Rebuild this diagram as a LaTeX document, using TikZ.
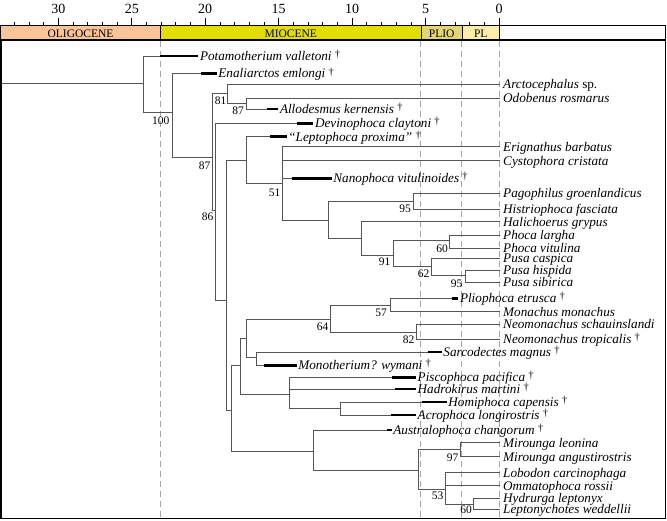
\documentclass[tikz,border=0pt]{standalone}
\usepackage{fontspec}
\setmainfont{Liberation Serif}
\usetikzlibrary{calc}
\definecolor{oligo}{HTML}{FBC496}
\definecolor{mio}{HTML}{E3DE00}
\definecolor{plio}{HTML}{E4D475}
\definecolor{pleis}{HTML}{FCEDA8}
\definecolor{brc}{HTML}{555555}
\newcommand\dagmark{\raisebox{2.8pt}{\fontsize{10.5}{10}\selectfont\upshape †}}
\newcommand\leafE[4]{%
  \coordinate (#1) at (500,#3);
  \draw[br] (#2) |- (#1);
  \node[tax] (#1lab) at (503,{#3+4.5}) {#4};
}
\newcommand\leafF[6]{%
  \coordinate (#1s) at (#4,#3);
  \coordinate (#1) at (#5,#3);
  \draw[br] (#2) |- (#1s);
  \draw[rng] (#1s) -- (#1);
  \node[tax] (#1lab) at ({#5+1.5},{#3+4.5}) {#6};
}
\tikzset{
  br/.style={draw=brc, line width=0.85pt},
  rng/.style={draw=black, line width=2.8pt, line cap=butt},
  tax/.style={anchor=base west, inner sep=0pt, font=\fontsize{13.2}{14}\selectfont\itshape},
  suppval/.style={anchor=east, inner sep=0pt, font=\fontsize{11.5}{12}\selectfont},
  axnum/.style={inner sep=0pt, font=\fontsize{14}{14}\selectfont},
  epoch/.style={inner sep=0pt, font=\fontsize{11.5}{12}\selectfont},
  bound/.style={draw=gray!70, line width=0.6pt, dash pattern=on 6pt off 4pt},
}
\begin{document}
\begin{tikzpicture}[x=1pt,y=-1pt]
\useasboundingbox (0,0) rectangle (667,521);
% epoch bar
\fill[oligo] (0.5,26) rectangle (160.5,40);
\fill[mio] (160.5,26) rectangle (421,40);
\fill[plio] (421,26) rectangle (462.5,40);
\fill[pleis] (462.5,26) rectangle (499,40);
\draw[line width=1pt] (0.5,26) rectangle (665.5,40);
\foreach \xx in {160.5,421,462.5,499} \draw[line width=0.8pt] (\xx,26) -- (\xx,40);
\node[epoch] (eOl) at (80.5,33.5) {OLIGOCENE};
\node[epoch] (eMi) at (290.75,33.5) {MIOCENE};
\node[epoch] (ePlio) at (441.75,33.5) {PLIO};
\node[epoch] (ePl) at (480.75,33.5) {PL};
% axis
\foreach \a in {0,...,33} \draw[line width=0.7pt] ({499-14.69*\a},26) -- ++(0,-3.5);
\foreach \a in {0,5,...,30} {
  \draw[line width=0.7pt] ({499-14.69*\a},26) -- ++(0,-8);
  \node[axnum] (ax\a) at ({499-14.69*\a},8.5) {\a};
}
% boundaries
\foreach \xx in {160.7,420.7,461.5,499} \draw[bound] (\xx,41) -- (\xx,518);
% frame
\draw[line width=1.6pt] (1,40) rectangle (665.5,518.5);
% internal nodes
\coordinate (r0) at (2,83);
\coordinate (n1) at (143.3,83);
\coordinate (n2) at (172.3,112.7);
\coordinate (n3) at (212.3,157.7);
\coordinate (nA) at (227.7,93.3);
\coordinate (nB) at (246.3,103.3);
\coordinate (nD) at (215.7,210);
\coordinate (nE) at (226.7,300);
\coordinate (nP) at (246.7,160);
\coordinate (nQ) at (282.3,183.3);
\coordinate (nR) at (328.3,220);
\coordinate (nS) at (413.3,201.7);
\coordinate (nT) at (361,238.3);
\coordinate (nU) at (393.3,255);
\coordinate (nV) at (449.3,240);
\coordinate (nW) at (431.7,266.7);
\coordinate (nX) at (465.7,275.7);
\coordinate (nM) at (231.7,410);
\coordinate (nF) at (240.7,365);
\coordinate (nG) at (246.7,338.3);
\coordinate (nI) at (330,319.3);
\coordinate (nK) at (390,305);
\coordinate (nNm) at (416.7,332.3);
\coordinate (nJ) at (256,357.7);
\coordinate (nH) at (289.3,394.3);
\coordinate (nHm) at (340.7,408.3);
\coordinate (nL) at (313.3,451.7);
\coordinate (nN) at (418.3,470.7);
\coordinate (nMi) at (460,449.3);
\coordinate (nLo) at (445.7,489.3);
\coordinate (nHL) at (473.3,504);
% internal branches
\draw[br] (r0) -- (n1);
\draw[br] (n1) |- (n2);
\draw[br] (n2) |- (n3);
\draw[br] (n3) |- (nA);
\draw[br] (n3) |- (nD);
\draw[br] (nA) |- (nB);
\draw[br] (nD) |- (nE);
\draw[br] (nE) |- (nP);
\draw[br] (nE) |- (nM);
\draw[br] (nP) |- (nQ);
\draw[br] (nQ) |- (nR);
\draw[br] (nR) |- (nS);
\draw[br] (nR) |- (nT);
\draw[br] (nT) |- (nU);
\draw[br] (nU) |- (nV);
\draw[br] (nU) |- (nW);
\draw[br] (nW) |- (nX);
\draw[br] (nM) |- (nF);
\draw[br] (nM) |- (nL);
\draw[br] (nF) |- (nG);
\draw[br] (nF) |- (nH);
\draw[br] (nG) |- (nI);
\draw[br] (nG) |- (nJ);
\draw[br] (nI) |- (nK);
\draw[br] (nI) |- (nNm);
\draw[br] (nH) |- (nHm);
\draw[br] (nL) |- (nN);
\draw[br] (nN) |- (nMi);
\draw[br] (nN) |- (nLo);
\draw[br] (nLo) |- (nHL);
% leaves
\leafF{Pot}{n1}{56}{160}{198.3}{Potamotherium valletoni \dagmark}
\leafF{Ena}{n2}{73.5}{201}{216.7}{Enaliarctos emlongi \dagmark}
\leafE{Arc}{nA}{84}{Arctocephalus \upshape sp.}
\leafE{Odo}{nB}{98.3}{Odobenus rosmarus}
\leafF{All}{nB}{109}{266.7}{278.3}{Allodesmus kernensis \dagmark}
\leafF{Dev}{nD}{123.3}{296.7}{313.3}{Devinophoca claytoni \dagmark}
\leafF{Lep}{nP}{136.7}{270}{286.7}{“Leptophoca proxima” \dagmark}
\leafE{Eri}{nQ}{146.7}{Erignathus barbatus}
\leafE{Cys}{nQ}{160.7}{Cystophora cristata}
\leafF{Nan}{nQ}{178.3}{291.7}{331.7}{Nanophoca vitulinoides \dagmark}
\leafE{Pag}{nS}{193.3}{Pagophilus groenlandicus}
\leafE{His}{nS}{209.3}{Histriophoca fasciata}
\leafE{Hal}{nT}{221.7}{Halichoerus grypus}
\leafE{Pla}{nV}{235}{Phoca largha}
\leafE{Pvi}{nV}{248.3}{Phoca vitulina}
\leafE{Pca}{nW}{258.3}{Pusa caspica}
\leafE{Phi}{nX}{270}{Pusa hispida}
\leafE{Psi}{nX}{282}{Pusa sibirica}
\leafF{Pli}{nK}{298.3}{451.7}{458.3}{Pliophoca etrusca \dagmark}
\leafE{Mon}{nK}{311.7}{Monachus monachus}
\leafE{Nsc}{nNm}{324.3}{Neomonachus schauinslandi}
\leafE{Ntr}{nNm}{339.3}{Neomonachus tropicalis \dagmark}
\leafF{Sar}{nJ}{352}{428.3}{441.7}{Sarcodectes magnus \dagmark}
\leafF{Mwy}{nJ}{365.3}{264.3}{296.7}{Monotherium? wymani \dagmark}
\leafF{Pis}{nH}{377.3}{391.7}{416}{Piscophoca pacifica \dagmark}
\leafF{Had}{nH}{389}{395}{416}{Hadrokirus martini \dagmark}
\leafF{Hom}{nHm}{402}{421.7}{446.7}{Homiphoca capensis \dagmark}
\leafF{Acr}{nHm}{415}{390.7}{416}{Acrophoca longirostris \dagmark}
\leafF{Aus}{nL}{430}{386.7}{391.7}{Australophoca changorum \dagmark}
\leafE{Mle}{nMi}{442.7}{Mirounga leonina}
\leafE{Man}{nMi}{456.7}{Mirounga angustirostris}
\leafE{Lob}{nLo}{472.7}{Lobodon carcinophaga}
\leafE{Omm}{nLo}{485.7}{Ommatophoca rossii}
\leafE{Hyd}{nHL}{498.3}{Hydrurga leptonyx}
\leafE{Lwe}{nHL}{509.3}{Leptonychotes weddellii}
% support values
\node[suppval] (bs100) at (169.5,120.8) {100};
\node[suppval] (bs87a) at (210.5,165.8) {87};
\node[suppval] (bs81) at (226.5,100.8) {81};
\node[suppval] (bs87b) at (244,110.8) {87};
\node[suppval] (bs86) at (213.5,217) {86};
\node[suppval] (bs51) at (280.5,192.5) {51};
\node[suppval] (bs95a) at (411,209) {95};
\node[suppval] (bs91) at (390.5,262) {91};
\node[suppval] (bs60a) at (448,248.3) {60};
\node[suppval] (bs62) at (429.5,274) {62};
\node[suppval] (bs95b) at (462.5,283.3) {95};
\node[suppval] (bs57) at (387,312.3) {57};
\node[suppval] (bs64) at (328.5,326.7) {64};
\node[suppval] (bs82) at (414.5,339.7) {82};
\node[suppval] (bs97) at (458.5,457.5) {97};
\node[suppval] (bs53) at (443.5,495.8) {53};
\node[suppval] (bs60b) at (472,509.7) {60};
\end{tikzpicture}
\end{document}
